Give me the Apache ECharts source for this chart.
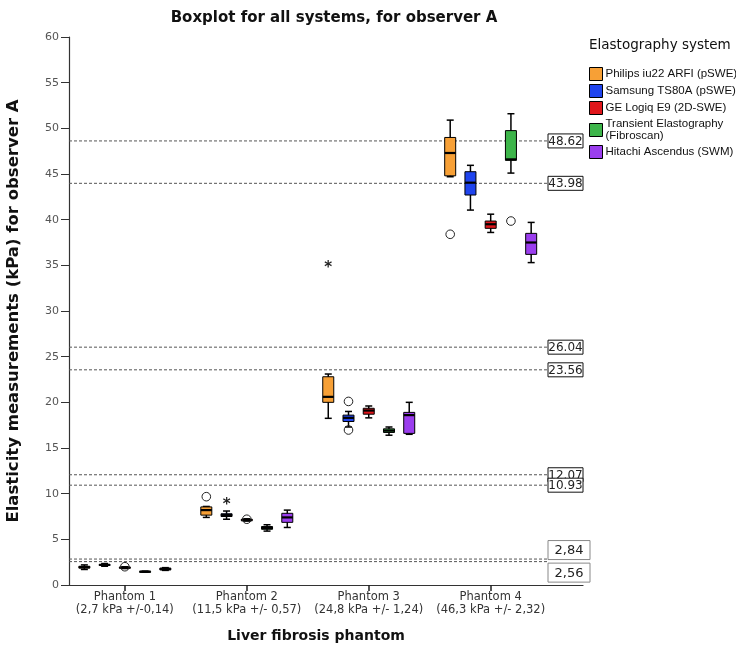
<!DOCTYPE html>
<html><head><meta charset="utf-8">
<script src="https://cdn.jsdelivr.net/npm/echarts@6/dist/echarts.min.js"></script>
<style>html,body{margin:0;padding:0;background:#fff}#c{width:736px;height:650px}</style>
</head><body><div id="c"></div>
<script>
// ---- data ----
const categories = ['Phantom 1\n(2,7 kPa +/-0,14)', 'Phantom 2\n(11,5 kPa +/- 0,57)', 'Phantom 3\n(24,8 kPa +/- 1,24)', 'Phantom 4\n(46,3 kPa +/- 2,32)'];
const systems = ['Philips iu22 ARFI (pSWE)', 'Samsung TS80A (pSWE)', 'GE Logiq E9 (2D-SWE)', 'Transient Elastography\n(Fibroscan)', 'Hitachi Ascendus (SWM)'];
const colors = ['#F7A036', '#1F44EE', '#E0161B', '#3DB54A', '#9B3EEE'];
// [min, Q1, median, Q3, max] per phantom
const philips  = [[1.7, 1.85, 1.95, 2.05, 2.2], [7.4, 7.65, 8.2, 8.55, 8.6], [18.25, 20.0, 20.6, 22.8, 23.1], [44.7, 44.8, 47.3, 49.0, 50.9]];
const samsung  = [[2.05, 2.15, 2.2, 2.25, 2.35], [7.2, 7.5, 7.65, 7.8, 8.1], [17.3, 17.9, 18.3, 18.6, 19.0], [41.05, 42.7, 44.05, 45.25, 45.95]];
const ge       = [[1.8, 1.85, 1.9, 1.95, 2.0], [7.0, 7.05, 7.1, 7.2, 7.25], [18.3, 18.7, 19.1, 19.35, 19.6], [38.6, 39.05, 39.5, 39.85, 40.6]];
const fibroscan= [[1.4, 1.43, 1.46, 1.5, 1.52], [5.9, 6.1, 6.25, 6.4, 6.6], [16.4, 16.7, 16.9, 17.1, 17.3], [45.1, 46.5, 46.6, 49.75, 51.6]];
const hitachi  = [[1.6, 1.65, 1.75, 1.85, 1.9], [6.3, 6.86, 7.4, 7.85, 8.2], [16.5, 16.6, 18.6, 18.9, 20.0], [35.3, 36.2, 37.5, 38.5, 39.7]];
const boxData = [philips, samsung, ge, fibroscan, hitachi];
// [phantom index, value, system index, marker]
const outliers = [
  [1, 9.67, 0, 'circle'], [2, 35.0, 0, 'star'], [3, 38.4, 0, 'circle'],
  [1, 9.05, 1, 'star'], [2, 20.1, 1, 'circle'], [2, 16.97, 1, 'circle'],
  [0, 2.0, 2, 'circle'], [1, 7.2, 2, 'circle'],
  [3, 39.85, 3, 'circle']
];
const refValues = [48.62, 43.98, 26.04, 23.56, 12.07, 10.93, 2.84, 2.56];
const refLabels = ['48.62', '43.98', '26.04', '23.56', '12.07', '10.93', '2,84', '2,56'];
const yTicks = [0, 5, 10, 15, 20, 25, 30, 35, 40, 45, 50, 55, 60];

const FONT = 'DejaVu Sans';
const chart = echarts.init(document.getElementById('c'));

function sysOffset(api, s) {
  const bw = api.size([1, 0])[0];
  return (s - 2) * bw * 0.166;
}

const series = boxData.map((boxes, s) => ({
  type: 'custom',
  name: systems[s],
  itemStyle: { color: colors[s], borderColor: '#000', borderWidth: 1 },
  data: boxes.map((b, i) => [i].concat(b)),
  encode: { x: 0, y: [1, 2, 3, 4, 5] },
  z: 3,
  renderItem: function (params, api) {
    const cat = api.value(0);
    const xc = api.coord([cat, 0])[0] + sysOffset(api, s);
    const y = [1, 2, 3, 4, 5].map(k => api.coord([cat, api.value(k)])[1]);
    const hw = 5.5, cw = 3.5;
    const ls = { stroke: '#000', lineWidth: 1.5 };
    return {
      type: 'group',
      children: [
        { type: 'line', shape: { x1: xc, y1: y[0], x2: xc, y2: y[4] }, style: ls },
        { type: 'line', shape: { x1: xc - cw, y1: y[0], x2: xc + cw, y2: y[0] }, style: ls },
        { type: 'line', shape: { x1: xc - cw, y1: y[4], x2: xc + cw, y2: y[4] }, style: ls },
        { type: 'rect', shape: { x: xc - hw, y: y[3], width: hw * 2, height: Math.max(y[1] - y[3], 1) },
          style: { fill: colors[s], stroke: '#000', lineWidth: 1 } },
        { type: 'line', shape: { x1: xc - hw, y1: y[2], x2: xc + hw, y2: y[2] }, style: { stroke: '#000', lineWidth: 2.2 } }
      ]
    };
  }
}));

series.push({
  type: 'custom',
  name: 'outliers',
  data: outliers,
  encode: { x: 0, y: 1 },
  z: 4,
  renderItem: function (params, api) {
    const p = api.coord([api.value(0), api.value(1)]);
    const s = outliers[params.dataIndex][2];
    const x = p[0] + sysOffset(api, s);
    if (outliers[params.dataIndex][3] === 'star') {
      return { type: 'text', style: { x: x, y: p[1] + 3, text: '*', fontSize: 15, fontWeight: 'bold', fill: '#222', align: 'center', verticalAlign: 'middle', fontFamily: FONT } };
    }
    return { type: 'circle', shape: { cx: x, cy: p[1], r: 4.3 }, style: { fill: 'none', stroke: '#222', lineWidth: 1 } };
  }
});

series.push({
  type: 'custom',
  name: 'refs',
  data: refValues.map((v, i) => [0, v, i]),
  encode: { x: 0, y: 1 },
  z: 2,
  renderItem: function (params, api) {
    const cs = params.coordSys;
    const i = params.dataIndex;
    const yy = api.coord([0, api.value(1)])[1];
    const xEnd = cs.x + cs.width - 35;
    const small = i >= 6;
    let ly = yy;
    if (i === 6) ly = yy - 9;
    if (i === 7) ly = yy + 11;
    const bwid = small ? 42 : 35, bh = small ? 19 : 14;
    return {
      type: 'group',
      children: [
        { type: 'line', shape: { x1: cs.x, y1: yy, x2: xEnd, y2: yy }, style: { stroke: '#555', lineWidth: 1, lineDash: [3, 2] } },
        { type: 'rect', shape: { x: xEnd, y: ly - bh / 2, width: bwid, height: bh }, style: { fill: '#fff', stroke: small ? '#888' : '#111', lineWidth: 1 } },
        { type: 'text', style: { x: xEnd + bwid / 2, y: ly + 1, text: refLabels[i], fontSize: small ? 13 : 12, fill: '#222', align: 'center', verticalAlign: 'middle', fontFamily: FONT } }
      ]
    };
  }
});

chart.setOption({
  animation: false,
  backgroundColor: '#fff',
  title: {
    text: 'Boxplot for all systems, for observer A',
    left: 329, top: 6, textAlign: 'center',
    textStyle: { fontFamily: FONT, fontSize: 15, fontWeight: 'bold', color: '#111' }
  },
  legend: {
    data: systems.map((n, s) => ({ name: n, itemStyle: { color: colors[s], borderColor: '#000', borderWidth: 1 } })),
    orient: 'vertical', left: 584, top: 62,
    icon: 'rect', itemWidth: 13, itemHeight: 13, itemGap: 3,
    selectedMode: false,
    textStyle: { fontFamily: 'Liberation Sans', fontSize: 11.5, color: '#111', padding: [0, 0, 0, -2], lineHeight: 12 }
  },
  graphic: [{
    type: 'text', left: 589, top: 38,
    style: { text: 'Elastography system', fontFamily: FONT, fontSize: 13.5, fill: '#111' }
  }],
  grid: { left: 69, right: 153, top: 37, bottom: 65, containLabel: false, outerBoundsMode: 'none' },
  xAxis: {
    type: 'value', min: -0.458, max: 3.757,
    name: 'Liver fibrosis phantom', nameLocation: 'middle', nameGap: 44,
    nameTextStyle: { fontFamily: FONT, fontSize: 14, fontWeight: 'bold', color: '#111', padding: [0, 20, 0, 0] },
    axisLine: { onZero: false, lineStyle: { color: '#333', width: 1.2 } },
    axisTick: { show: true, length: 6, lineStyle: { color: '#222', width: 1.5 }, customValues: [0, 1, 2, 3] },
    axisLabel: {
      customValues: [0, 1, 2, 3],
      formatter: v => categories[Math.round(v)] || '',
      fontFamily: FONT, fontSize: 11.5, color: '#333', lineHeight: 13, margin: 6
    },
    splitLine: { show: false }
  },
  yAxis: {
    type: 'value', min: 0, max: 60, interval: 5,
    name: 'Elasticity measurements (kPa) for observer A', nameLocation: 'middle', nameGap: 47,
    nameTextStyle: { fontFamily: FONT, fontSize: 16.5, fontWeight: 'bold', color: '#111' },
    axisLine: { show: true, onZero: false, lineStyle: { color: '#333', width: 1.2 } },
    axisTick: { show: true, length: 8, lineStyle: { color: '#333' } },
    axisLabel: { fontFamily: FONT, fontSize: 11, color: '#555', margin: 10, formatter: v => yTicks.includes(v) ? String(v) : '' },
    splitLine: { show: false }
  },
  series: series
});
</script>
</body></html>
